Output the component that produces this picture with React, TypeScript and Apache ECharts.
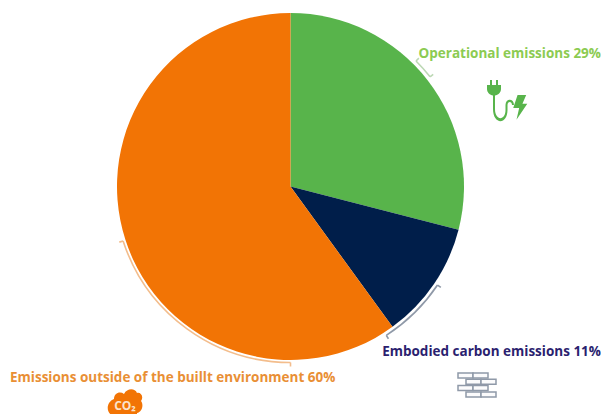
import React, { useEffect, useRef } from "react";
import * as echarts from "echarts";

const categories = [
  "Operational emissions",
  "Embodied carbon emissions",
  "Emissions outside of the buillt environment",
];
const shares = [29, 11, 60];
const sliceColors = ["#58b44b", "#001e4a", "#f27405"];
const labelColors = ["#8ccb52", "#2b1f6f", "#e98f35"];
const bracketColors = ["#bcd8b4", "#8f99a8", "#f3bd8c"];

const CENTER = [290.5, 186.5];
const PIE_R = 173.5;
const LABEL_FONT = 'bold 13.5px "Open Sans"';

// Bracket spans as fractions of the full turn, clockwise from twelve o'clock.
const bracketSpans = [
  [0.125, 0.144],
  [0.344, 0.409],
  [0.5, 0.7],
];
const bracketRadii = [177.5, 177, 176];

const PLUG =
  "M3 0 L5 0 L5 5 L9 5 L9 0 L11 0 L11 5 L14 5 L14 9 C14 12.5 11 15 8 15.5 L8 29 C8 41 18.5 41 18.5 30 L18.5 25 C18.5 18 27 18 27 25 L25 25 C25 21 20.5 21 20.5 25 L20.5 30 C20.5 45 6 45 6 29 L6 15.5 C3 15 0 12.5 0 9 L0 5 L3 5 Z";
const BOLT = "M7 0 L15 0 L11.5 8 L16 8 L6 23 L8.5 12 L3 12 Z";
const CLOUD =
  "M7 11 C7 5 13 3 17 6 C20 0 28 0 30 5 C34 4 37 9 34 13 C37 17 35 24 30 25 L30 40 L5 40 L5 27 C-1 25 -1 14 7 11 Z";

echarts.graphic.registerShape("plugIcon", echarts.graphic.extendPath(PLUG as any, {}) as any);
echarts.graphic.registerShape("boltIcon", echarts.graphic.extendPath(BOLT as any, {}) as any);
echarts.graphic.registerShape("cloudIcon", echarts.graphic.extendPath(CLOUD as any, {}) as any);

// Arc plus short outward end ticks marking the span of a slice.
function bracket(span: number[], r: number, color: string) {
  const toAngle = (f: number) => f * 2 * Math.PI - Math.PI / 2;
  const a0 = toAngle(span[0]);
  const a1 = toAngle(span[1]);
  const pt = (a: number, rad: number) => [CENTER[0] + rad * Math.cos(a), CENTER[1] + rad * Math.sin(a)];
  const tick = (a: number) => {
    const p = pt(a, r);
    const q = pt(a, r + 4);
    return {
      type: "line",
      silent: true,
      shape: { x1: p[0], y1: p[1], x2: q[0], y2: q[1] },
      style: { stroke: color, lineWidth: 1.6 },
    };
  };
  return [
    {
      type: "arc",
      silent: true,
      shape: { cx: CENTER[0], cy: CENTER[1], r, startAngle: a0, endAngle: a1, clockwise: true },
      style: { stroke: color, lineWidth: 1.6, fill: "none" },
    },
    tick(a0),
    tick(a1),
  ];
}

// Wall of outlined bricks: four staggered courses of two bricks.
function brickIcon(x: number, y: number, color: string) {
  const courses = [
    [0, 15],
    [8, 23],
    [0, 15],
    [8, 23],
  ];
  const out: any[] = [];
  courses.forEach((course, i) => {
    course.forEach((bx) => {
      out.push({
        type: "rect",
        silent: true,
        shape: { x: x + bx, y: y + i * 6.3, width: 15, height: 5 },
        style: { stroke: color, lineWidth: 1.5, fill: "#fbfbfc" },
      });
    });
  });
  return out;
}

function label(text: string, x: number, y: number, align: string, fill: string) {
  return {
    type: "text",
    silent: true,
    style: { x, y, text, align, verticalAlign: "middle", font: LABEL_FONT, fill },
  };
}

export default function App() {
  const ref = useRef<HTMLDivElement>(null);
  useEffect(() => {
    if (!ref.current) return;
    const chart = echarts.init(ref.current, undefined, { renderer: "svg" });
    chart.setOption({
      animation: false,
      backgroundColor: "#ffffff",
      series: [
        {
          type: "pie",
          center: CENTER,
          radius: [0, PIE_R],
          startAngle: 90,
          clockwise: true,
          silent: true,
          label: { show: false },
          labelLine: { show: false },
          data: categories.map((name, i) => ({
            name,
            value: shares[i],
            itemStyle: { color: sliceColors[i] },
          })),
        },
      ],
      graphic: [
        ...categories.flatMap((_, i) => bracket(bracketSpans[i], bracketRadii[i], bracketColors[i])),
        label(`${categories[0]} ${shares[0]}%`, 601, 53, "right", labelColors[0]),
        label(`${categories[1]} ${shares[1]}%`, 601, 351, "right", labelColors[1]),
        label(`${categories[2]} ${shares[2]}%`, 10, 377, "left", labelColors[2]),
        { type: "plugIcon", silent: true, x: 487, y: 80, style: { fill: "#58b44b" } },
        { type: "boltIcon", silent: true, x: 510, y: 95, scaleX: 1.08, scaleY: 1.08, style: { fill: "#58b44b" } },
        ...brickIcon(458, 373, "#8f99a8"),
        { type: "cloudIcon", silent: true, x: 107, y: 388, style: { fill: "#f27405" } },
        {
          type: "text",
          silent: true,
          style: {
            x: 125,
            y: 405,
            text: "CO₂",
            align: "center",
            verticalAlign: "middle",
            font: 'bold 12px "Open Sans"',
            fill: "#fbe3cc",
          },
        },
      ],
    });
    return () => chart.dispose();
  }, []);
  return <div ref={ref} style={{ position: "fixed", left: 0, top: 0, width: 601, height: 414 }} />;
}
